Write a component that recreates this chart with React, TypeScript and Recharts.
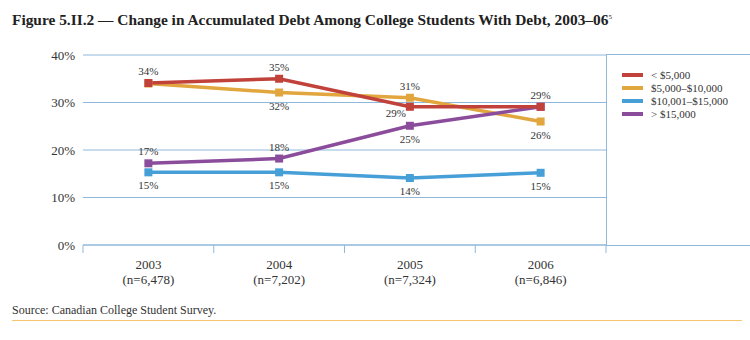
import React from 'react';
import {
  LineChart, Line, XAxis, YAxis, CartesianGrid, LabelList,
} from 'recharts';

const years = ['2003', '2004', '2005', '2006'];
const sampleSizes = ['(n=6,478)', '(n=7,202)', '(n=7,324)', '(n=6,846)'];

const under5k = [34.1, 35.0, 29.1, 29.1];
const mid5to10k = [34.0, 32.1, 31.0, 26.0];
const mid10to15k = [15.3, 15.3, 14.1, 15.2];
const over15k = [17.2, 18.2, 25.1, 29.1];

const yTicks = [0, 10, 20, 30, 40];

// where each value label sits relative to its point
type Spot = 'top' | 'bottom' | 'bottomLeft' | 'none';
const under5kSpots: Spot[] = ['top', 'top', 'bottomLeft', 'top'];
const mid5to10kSpots: Spot[] = ['none', 'bottom', 'top', 'bottom'];
const mid10to15kSpots: Spot[] = ['bottom', 'bottom', 'bottom', 'bottom'];
const over15kSpots: Spot[] = ['top', 'top', 'bottom', 'none'];

const SERIES = [
  { key: 'under5k', name: '< $5,000', color: '#c1413b', spots: under5kSpots },
  { key: 'mid5to10k', name: '$5,000–$10,000', color: '#e2a63e', spots: mid5to10kSpots },
  { key: 'mid10to15k', name: '$10,001–$15,000', color: '#479fd8', spots: mid10to15kSpots },
  { key: 'over15k', name: '> $15,000', color: '#8b4d9b', spots: over15kSpots },
];
// drawing order (last on top)
const DRAW_ORDER = ['mid10to15k', 'mid5to10k', 'over15k', 'under5k'];

const GRID = '#8fb8da';
const TEXT = '#333';
const FONT = '"Liberation Serif", "DejaVu Serif", serif';

const chartData = years.map((year, i) => ({
  x: i + 0.5,
  year,
  under5k: under5k[i],
  mid5to10k: mid5to10k[i],
  mid10to15k: mid10to15k[i],
  over15k: over15k[i],
}));

const xTicks = [0, 0.5, 1, 1.5, 2, 2.5, 3, 3.5, 4];

function XTick(props: any) {
  const { x, y, payload } = props;
  const v = payload.value;
  if (Number.isInteger(v)) {
    return <line x1={x} x2={x} y1={y - 8} y2={y} stroke={GRID} strokeWidth={1} />;
  }
  const i = Math.floor(v);
  return (
    <g>
      <text x={x} y={y + 16} textAnchor="middle" fontSize={13} fill={TEXT} fontFamily={FONT}>
        {years[i]}
      </text>
      <text x={x} y={y + 31} textAnchor="middle" fontSize={13} fill={TEXT} fontFamily={FONT}>
        {sampleSizes[i]}
      </text>
    </g>
  );
}

const makeLabel = (spots: Spot[]) => (props: any) => {
  const { x, y, value, index } = props;
  const spot = spots[index];
  if (spot === 'none') return null;
  let dx = 0;
  let dy = -8;
  if (spot === 'bottom') dy = 17;
  if (spot === 'bottomLeft') { dx = -14; dy = 10; }
  return (
    <text x={x + dx} y={y + dy} textAnchor="middle" fontSize={11} fill={TEXT} fontFamily={FONT}>
      {`${Math.round(value)}%`}
    </text>
  );
};

const squareDot = (color: string) => (props: any) => {
  const { cx, cy, index } = props;
  return <rect key={index} x={cx - 4} y={cy - 4} width={8} height={8} fill={color} />;
};

function LegendBox() {
  return (
    <div style={{
      position: 'absolute', left: 606, top: 54, width: 144, height: 192,
      borderTop: `1px solid ${GRID}`, borderBottom: `1px solid ${GRID}`,
      borderLeft: `1px solid ${GRID}`, boxSizing: 'border-box',
      paddingLeft: 15, paddingTop: 14,
    }}>
      {SERIES.map(s => (
        <div key={s.key} style={{ display: 'flex', alignItems: 'center', height: 12.8 }}>
          <div style={{ width: 21, height: 4, background: s.color, marginRight: 8 }} />
          <span style={{ fontSize: 11, color: TEXT, fontFamily: FONT, whiteSpace: 'nowrap' }}>{s.name}</span>
        </div>
      ))}
    </div>
  );
}

export default function App() {
  return (
    <div style={{ position: 'absolute', left: 0, top: 0, width: 750, height: 340, background: '#fff', fontFamily: FONT }}>
      <div style={{ position: 'absolute', left: 12, top: 11, fontSize: 15.4, fontWeight: 700, color: '#222', whiteSpace: 'nowrap' }}>
        Figure 5.II.2 — Change in Accumulated Debt Among College Students With Debt, 2003–06
        <sup style={{ fontSize: 7, fontWeight: 400 }}>5</sup>
      </div>

      <LineChart
        width={750}
        height={340}
        data={chartData}
        margin={{ top: 55, right: 144, left: 23, bottom: 55 }}
      >
        <CartesianGrid horizontal vertical={false} stroke={GRID} />
        <XAxis
          dataKey="x"
          type="number"
          domain={[0, 4]}
          ticks={xTicks}
          interval={0}
          tick={<XTick />}
          tickLine={false}
          tickSize={8}
          tickMargin={0}
          axisLine={{ stroke: GRID }}
          height={40}
        />
        <YAxis
          domain={[0, 40]}
          ticks={yTicks}
          tickFormatter={(v) => `${v}%`}
          tick={{ fill: TEXT, fontSize: 13, fontFamily: FONT }}
          axisLine={false}
          tickLine={false}
          width={60}
        />
        {DRAW_ORDER.map(k => {
          const s = SERIES.find(d => d.key === k)!;
          return (
            <Line
              key={s.key}
              dataKey={s.key}
              name={s.name}
              type="linear"
              stroke={s.color}
              strokeWidth={3.5}
              dot={squareDot(s.color)}
              activeDot={false}
              isAnimationActive={false}
            >
              <LabelList dataKey={s.key} content={makeLabel(s.spots)} />
            </Line>
          );
        })}
      </LineChart>

      <LegendBox />

      <div style={{ position: 'absolute', left: 12, top: 303, fontSize: 12, color: TEXT }}>
        Source: Canadian College Student Survey.
      </div>
      <div style={{ position: 'absolute', left: 12, top: 320, width: 730, height: 1, background: '#f5c66e' }} />
    </div>
  );
}
